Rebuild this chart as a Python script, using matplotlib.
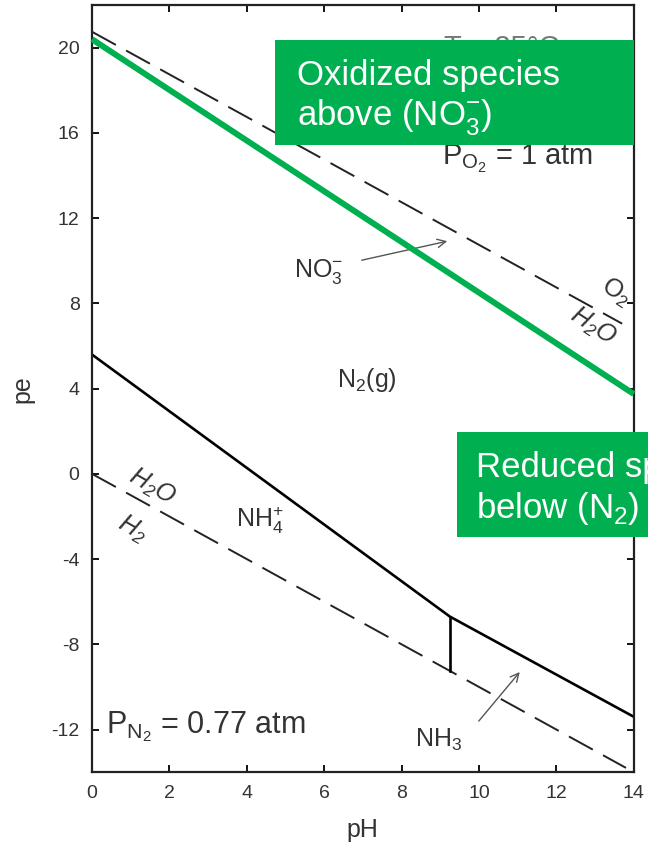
import matplotlib
matplotlib.use("Agg")
import matplotlib.pyplot as plt
from matplotlib.patches import Rectangle

plt.rcParams['font.family'] = ['Liberation Sans', 'DejaVu Sans']
plt.rcParams['axes.unicode_minus'] = False

# Boundary lines (pH, pe)
o2_h2o_ph = [0, 13.7]
o2_h2o_pe = [20.75, 7.05]
h2o_h2_ph = [0, 13.8]
h2o_h2_pe = [0, -13.8]
n2_nh_ph = [0, 9.25, 14]
n2_nh_pe = [5.6, -6.7, -11.4]
nh4_nh3_ph = [9.25, 9.25]
nh4_nh3_pe = [-6.7, -9.25]
no3_n2_ph = [0, 14]
no3_n2_pe = [20.4, 3.75]

xticks = [0, 2, 4, 6, 8, 10, 12, 14]
yticks = [-12, -8, -4, 0, 4, 8, 12, 16, 20]

fig = plt.figure(figsize=(6.48, 8.57), dpi=100)
ax = fig.add_axes([0.142, 0.099, 0.836, 0.895])

dash = (0, (14, 6))
ax.plot(o2_h2o_ph, o2_h2o_pe, color='#222222', lw=1.4, linestyle=dash)
ax.plot(h2o_h2_ph, h2o_h2_pe, color='#222222', lw=1.4, linestyle=dash)
ax.plot(n2_nh_ph, n2_nh_pe, color='black', lw=1.9, solid_joinstyle='miter')
ax.plot(nh4_nh3_ph, nh4_nh3_pe, color='black', lw=1.9)
ax.plot(no3_n2_ph, no3_n2_pe, color='#00B050', lw=4.3, clip_on=False, zorder=5,
        solid_capstyle='butt')

ax.set_xlim(0, 14)
ax.set_ylim(-14, 22)
ax.set_xticks(xticks)
ax.set_yticks(yticks)
ax.tick_params(direction='in', top=True, right=True, length=5, width=1.3,
               labelsize=14, colors='black', labelcolor='#333333', pad=9)
for s in ax.spines.values():
    s.set_linewidth(1.6)
    s.set_color('#222222')
ax.set_xlabel('pH', fontsize=18, color='#333333', labelpad=12)
ax.set_ylabel('pe', fontsize=18, color='#333333', labelpad=12)

tc = '#333333'
ax.text(10.6, 20.0, 'T = 25°C', fontsize=21, color='#777777', ha='center', va='center',
        zorder=1)
ax.text(11.0, 14.8, r'P$_{\mathregular{O_2}}$ = 1 atm', fontsize=21, color=tc,
        ha='center', va='center')
ax.text(13.55, 8.5, r'O$_{\mathregular{2}}$', fontsize=18, color=tc, rotation=-33,
        ha='center', va='center')
ax.text(12.95, 6.9, r'H$_{\mathregular{2}}$O', fontsize=18, color=tc, rotation=-33,
        ha='center', va='center', style='italic')
ax.annotate('', xy=(9.25, 10.95), xytext=(6.9, 10.0),
            arrowprops=dict(arrowstyle='->,head_length=0.6,head_width=0.3',
                            color='#555555', lw=1.0))
ax.text(5.85, 9.5, r'NO$_{\mathregular{3}}^{\mathregular{-}}$', fontsize=18, color=tc,
        ha='center', va='center')
ax.text(7.1, 4.4, r'N$_{\mathregular{2}}$(g)', fontsize=18, color=tc,
        ha='center', va='center')
ax.text(1.55, -0.6, r'H$_{\mathregular{2}}$O', fontsize=18, color=tc, rotation=-30,
        ha='center', va='center', style='italic')
ax.text(1.05, -2.6, r'H$_{\mathregular{2}}$', fontsize=18, color=tc, rotation=-30,
        ha='center', va='center', style='italic')
ax.text(4.35, -2.2, r'NH$_{\mathregular{4}}^{\mathregular{+}}$', fontsize=18, color=tc,
        ha='center', va='center')
ax.text(0.35, -11.85, r'P$_{\mathregular{N_2}}$ = 0.77 atm', fontsize=22, color=tc,
        ha='left', va='center')
ax.annotate('', xy=(11.1, -9.2), xytext=(9.95, -11.7),
            arrowprops=dict(arrowstyle='->,head_length=0.6,head_width=0.3',
                            color='#555555', lw=1.0))
ax.text(8.95, -12.5, r'NH$_{\mathregular{3}}$', fontsize=18, color=tc,
        ha='center', va='center')

green = '#00B050'
fig.patches.append(Rectangle((275/648, 1 - 145/857), (634 - 275)/648, 105/857,
                             transform=fig.transFigure, facecolor=green,
                             edgecolor='none', zorder=10))
fig.text(297/648, 1 - 98/857, 'Oxidized species\nabove (NO$_{\\mathregular{3}}^{\\mathregular{-}}$)',
         fontsize=25, color='white', ha='left', va='center', linespacing=1.2, zorder=11)
fig.patches.append(Rectangle((457/648, 1 - 537/857), 0.4, 105/857,
                             transform=fig.transFigure, facecolor=green,
                             edgecolor='none', zorder=10))
fig.text(476/648, 1 - 489/857, 'Reduced species\nbelow (N$_{\\mathregular{2}}$)',
         fontsize=25, color='white', ha='left', va='center', linespacing=1.2, zorder=11)

fig.savefig('out.png', dpi=100)
